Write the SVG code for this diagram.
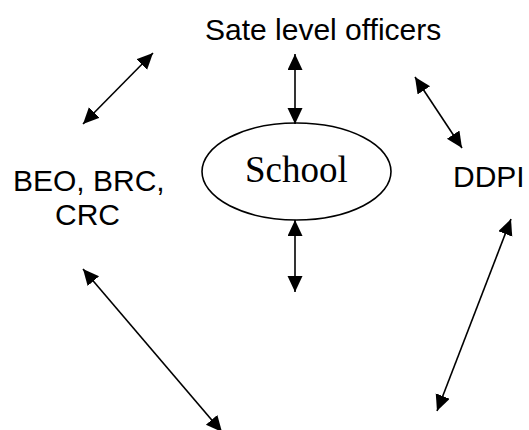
<svg xmlns="http://www.w3.org/2000/svg" width="529" height="430" viewBox="0 0 529 430">
<style>
.lbl{font-family:"Liberation Sans",Arial,sans-serif;font-size:30px;fill:#000}
.ser{font-family:"Liberation Serif","Times New Roman",serif;font-size:37px;fill:#000}
.conn line{stroke:#000;stroke-width:1.6;marker-start:url(#ah);marker-end:url(#ah)}
</style>
<defs>
<marker id="ah" markerUnits="userSpaceOnUse" markerWidth="17" markerHeight="16" refX="16" refY="7.5" orient="auto-start-reverse" viewBox="0 0 17 16">
<path d="M0,0 L16,7.5 L0,15 z" fill="#000"/>
</marker>
</defs>
<rect width="529" height="430" fill="#fff"/>
<g id="state"><text class="lbl" x="205" y="40">Sate level officers</text></g>
<g id="beo"><text class="lbl" x="13" y="191">BEO, BRC,</text><text class="lbl" x="55" y="225">CRC</text></g>
<g id="ddpi"><text class="lbl" x="453" y="187">DDPI</text></g>
<g id="school"><ellipse cx="296.5" cy="171.5" rx="94.5" ry="48.5" fill="none" stroke="#000" stroke-width="1.6"/><text class="ser" x="245" y="182">School</text></g>
<g id="connectors" class="conn">
<line x1="83" y1="124" x2="153" y2="53"/>
<line x1="295" y1="54" x2="295" y2="124"/>
<line x1="415" y1="77" x2="462" y2="148"/>
<line x1="295" y1="220" x2="295" y2="292"/>
<line x1="83" y1="269" x2="222" y2="432"/>
<line x1="511" y1="219" x2="437" y2="411"/>
</g>
</svg>
